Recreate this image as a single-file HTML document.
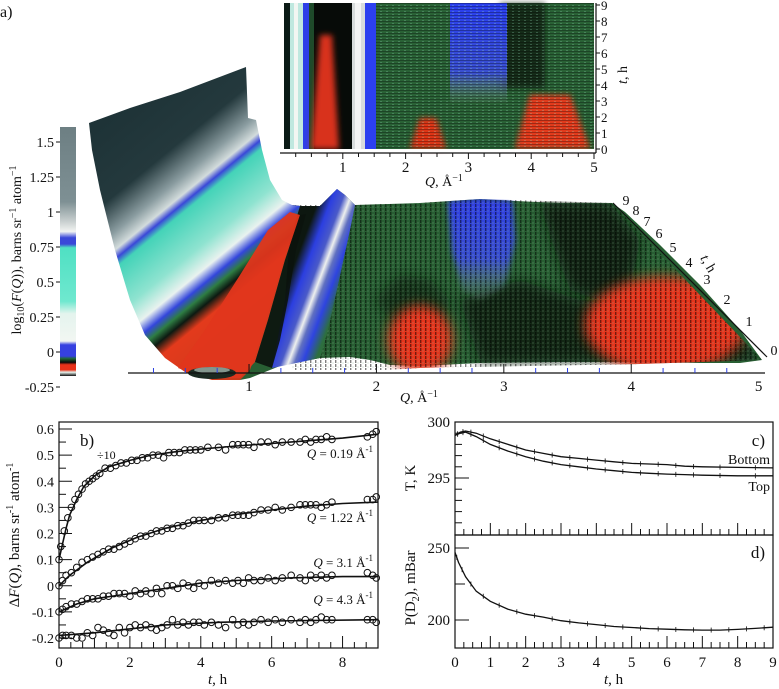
<!DOCTYPE html>
<html><head><meta charset="utf-8">
<style>
html,body{margin:0;padding:0;background:#fff;}
body{width:779px;height:689px;overflow:hidden;font-family:"Liberation Serif",serif;}
svg{position:absolute;left:0;top:0;}
text{font-family:"Liberation Serif",serif;fill:#111;}
</style></head>
<body>
<svg id="fig" width="779" height="689" viewBox="0 0 779 689">
<defs>
  <filter id="blur6" x="-30%" y="-30%" width="160%" height="160%"><feGaussianBlur stdDeviation="6"/></filter>
  <filter id="blur3" x="-30%" y="-30%" width="160%" height="160%"><feGaussianBlur stdDeviation="3"/></filter>
  <linearGradient id="wallGrad" gradientUnits="userSpaceOnUse" x1="120" y1="110" x2="300" y2="330">
    <stop offset="0" stop-color="#1e3337"/>
    <stop offset="0.22" stop-color="#24393d"/>
    <stop offset="0.32" stop-color="#8a9ca0"/>
    <stop offset="0.37" stop-color="#d3dcdc"/>
    <stop offset="0.395" stop-color="#3a48d8"/>
    <stop offset="0.42" stop-color="#44d3b8"/>
    <stop offset="0.55" stop-color="#8fe3d0"/>
    <stop offset="0.62" stop-color="#e9f2ef"/>
    <stop offset="0.66" stop-color="#3346dc"/>
    <stop offset="0.69" stop-color="#2e7d43"/>
    <stop offset="0.72" stop-color="#0d1a12"/>
    <stop offset="0.76" stop-color="#e33a1c"/>
    <stop offset="1" stop-color="#c93a1a"/>
  </linearGradient>
  <linearGradient id="cbGrad" x1="0" y1="0" x2="0" y2="1">
    <stop offset="0" stop-color="#6d7f83"/>
    <stop offset="0.30" stop-color="#7e9094"/>
    <stop offset="0.38" stop-color="#c9d0d0"/>
    <stop offset="0.42" stop-color="#f2f4f2"/>
    <stop offset="0.445" stop-color="#3a48d8"/>
    <stop offset="0.47" stop-color="#3a48d8"/>
    <stop offset="0.485" stop-color="#4fe0c3"/>
    <stop offset="0.70" stop-color="#6fe8cf"/>
    <stop offset="0.75" stop-color="#e4f4ee"/>
    <stop offset="0.86" stop-color="#f2f6f2"/>
    <stop offset="0.875" stop-color="#3641e0"/>
    <stop offset="0.92" stop-color="#3641e0"/>
    <stop offset="0.93" stop-color="#1f6a38"/>
    <stop offset="0.945" stop-color="#0a0a0a"/>
    <stop offset="0.955" stop-color="#e8321a"/>
    <stop offset="0.975" stop-color="#e8321a"/>
    <stop offset="0.985" stop-color="#e6f0ea"/>
    <stop offset="1" stop-color="#111"/>
  </linearGradient>
  <linearGradient id="ridgeGrad" gradientUnits="userSpaceOnUse" x1="272" y1="270" x2="352" y2="300">
    <stop offset="0" stop-color="#0d1710"/>
    <stop offset="0.22" stop-color="#0d1710"/>
    <stop offset="0.36" stop-color="#2c3fe0"/>
    <stop offset="0.48" stop-color="#4a5ac8"/>
    <stop offset="0.56" stop-color="#eef0ee"/>
    <stop offset="0.63" stop-color="#6070c0"/>
    <stop offset="0.72" stop-color="#2e44e0"/>
    <stop offset="0.85" stop-color="#2d6f3e"/>
    <stop offset="1" stop-color="#2d6f3e"/>
  </linearGradient>
  <linearGradient id="blueGrad" x1="0" y1="0" x2="0" y2="1">
    <stop offset="0" stop-color="#2f3fe6"/><stop offset="0.6" stop-color="#3a4fd0"/><stop offset="1" stop-color="#6f8f80" stop-opacity="0.2"/>
  </linearGradient>
  <linearGradient id="insetBlue" x1="0" y1="0" x2="0" y2="1">
    <stop offset="0" stop-color="#2a3ff0"/><stop offset="0.7" stop-color="#3a50d0"/><stop offset="1" stop-color="#7a9a88" stop-opacity="0.1"/>
  </linearGradient>
  <pattern id="tex" width="5" height="4" patternUnits="userSpaceOnUse">
    <rect x="0" y="0" width="1.4" height="3" fill="#000" opacity="0.5"/>
    <rect x="2.5" y="2" width="1" height="2" fill="#8fb89a" opacity="0.3"/>
  </pattern>
  <pattern id="htex" width="6" height="3" patternUnits="userSpaceOnUse">
    <rect x="0" y="0" width="6" height="1" fill="#000" opacity="0.3"/>
    <rect x="2" y="2" width="2" height="1" fill="#9fe8c8" opacity="0.25"/>
  </pattern>
  <clipPath id="plateauClip"><polygon points="292,205 355,205 420,203 480,199 612,203 762,360 640,364 420,368 250,378"/></clipPath>
</defs>

<text x="0" y="17" font-size="16">a)</text>

<g>
  <rect x="60" y="127" width="16" height="249" fill="url(#cbGrad)"/>
  <g id="cbTicks"></g>
  <text transform="translate(21,250) rotate(-90)" text-anchor="middle" font-size="14">log<tspan font-size="10" dy="3">10</tspan><tspan dy="-3">(</tspan><tspan font-style="italic">F</tspan>(<tspan font-style="italic">Q</tspan>)), barns sr<tspan font-size="10" dy="-5">−1</tspan><tspan dy="5"> atom</tspan><tspan font-size="10" dy="-5">−1</tspan></text>
</g>

<g>
  <polygon fill="#285f33"
    points="292,205 300,206 320,206 330,196 337,189 345,195 355,205 420,203 450,201 480,199 515,201 560,203 612,203 625,212 660,245 700,285 740,330 762,360 740,363 700,363 640,362 560,362 480,363 420,366 390,365 370,360 350,357 320,358 280,366 250,378 240,380 260,330"/>
  <g clip-path="url(#plateauClip)">
    <polygon fill="#0c160f" opacity="0.8" filter="url(#blur6)"
      points="540,203 610,203 640,240 630,290 600,300 570,290 555,250"/>
    <polygon fill="#0b140c" opacity="0.75" filter="url(#blur6)"
      points="460,300 520,280 580,300 700,320 745,340 760,362 600,362 480,363"/>
    <polygon fill="#0e1a10" opacity="0.6" filter="url(#blur6)"
      points="375,300 400,275 430,280 450,300 440,330 400,330"/>
    <polygon fill="url(#blueGrad)" filter="url(#blur3)"
      points="448,201 480,198 512,201 515,240 505,285 480,300 462,290 452,250"/>
    <ellipse cx="420" cy="340" rx="32" ry="34" fill="#e8341a" filter="url(#blur6)"/>
    <ellipse cx="665" cy="325" rx="80" ry="48" fill="#e6341a" filter="url(#blur6)"/>
    <rect x="292" y="190" width="472" height="180" fill="url(#tex)"/>
  </g>
  <polygon fill="url(#ridgeGrad)"
    points="292,205 300,206 320,206 330,196 337,189 345,195 355,205 350,230 338,285 328,330 320,358 282,366 272,368 285,300"/>
  <polygon fill="url(#wallGrad)"
    points="89,123 130,108 180,92 246,67 248,118 256,120 262,150 270,180 282,200 292,205 300,206 290,240 275,290 262,335 250,370 240,380 212,380 185,372 165,358 145,335 130,300 115,250 100,190 92,150"/>
  <polygon fill="#e0361c" opacity="0.95"
    points="178,368 205,330 240,275 268,230 290,212 300,215 285,260 268,320 255,362 240,378 205,378"/>
  <polygon fill="#0b130d" opacity="0.9"
    points="255,362 268,320 285,260 300,215 306,214 296,250 288,300 280,340 272,368"/>
  <ellipse cx="212" cy="373" rx="24" ry="6" fill="#1b2a22"/>
  <ellipse cx="212" cy="370" rx="18" ry="3" fill="#c9e0d6" opacity="0.6"/>
</g>

<g id="surfQAxis">
  <line x1="128" y1="373" x2="765" y2="373" stroke="#111" stroke-width="1.2"/>
</g>
<text x="400" y="402" font-size="14"><tspan font-style="italic">Q</tspan>, Å<tspan font-size="10" dy="-5">−1</tspan></text>

<g id="surfTAxis">
  <line x1="613" y1="203" x2="767" y2="357" stroke="#111" stroke-width="1.2"/>
</g>
<text transform="translate(700,258) rotate(60)" font-size="14"><tspan font-style="italic">t</tspan>, h</text>

<g>
  <rect x="284" y="3" width="310" height="146" fill="#2a6236"/>
  <rect x="284" y="3" width="6" height="146" fill="#0b1a16"/>
  <rect x="290" y="3" width="13" height="146" fill="#bfe8df"/>
  <rect x="294" y="3" width="4" height="146" fill="#f2f6f2"/>
  <rect x="303" y="3" width="6" height="146" fill="#2d3fe8"/>
  <rect x="309" y="3" width="5" height="146" fill="#1e4a2a"/>
  <rect x="314" y="3" width="40" height="146" fill="#070b08"/>
  <polygon points="320,35 332,35 339,149 311,149" fill="#d8321a" filter="url(#blur3)"/>
  <rect x="352" y="3" width="13" height="146" fill="#d8dcdc"/>
  <rect x="355" y="3" width="6" height="146" fill="#f4f4f4"/>
  <rect x="365" y="3" width="11" height="146" fill="#2c3ff0"/>
  <rect x="500" y="3" width="45" height="85" fill="#0c150e" opacity="0.7" filter="url(#blur3)"/>
  <rect x="450" y="3" width="57" height="100" fill="url(#insetBlue)"/>
  <polygon points="420,118 436,118 446,149 410,149" fill="#dd3418" filter="url(#blur3)"/>
  <polygon points="530,95 570,95 590,149 515,149" fill="#e23a1c" filter="url(#blur3)"/>
  <rect x="376" y="3" width="218" height="146" fill="url(#htex)"/>
  <rect x="284" y="149" width="312" height="4" fill="#fff"/>
  <line x1="280" y1="153" x2="596" y2="153" stroke="#111" stroke-width="1.2"/>
  <line x1="596" y1="3" x2="596" y2="153" stroke="#111" stroke-width="1.2"/>
  <g id="insetTicks"></g>
  <text x="425" y="186" font-size="14"><tspan font-style="italic">Q</tspan>, Å<tspan font-size="10" dy="-5">−1</tspan></text>
  <text transform="translate(627,75) rotate(-90)" text-anchor="middle" font-size="14"><tspan font-style="italic">t</tspan>, h</text>
</g>

<g id="panelB">
  <rect x="59" y="422" width="319" height="226" fill="none" stroke="#111" stroke-width="1.2"/>
  <text x="80" y="446" font-size="17">b)</text>
  <text x="97" y="459" font-size="12">÷10</text>
  <text x="373" y="458" font-size="13" text-anchor="end"><tspan font-style="italic">Q</tspan> = 0.19 Å<tspan font-size="9" dy="-6">-1</tspan></text>
  <text x="373" y="522" font-size="13" text-anchor="end"><tspan font-style="italic">Q</tspan> = 1.22 Å<tspan font-size="9" dy="-6">-1</tspan></text>
  <text x="373" y="567" font-size="13" text-anchor="end"><tspan font-style="italic">Q</tspan> = 3.1 Å<tspan font-size="9" dy="-6">-1</tspan></text>
  <text x="373" y="604" font-size="13" text-anchor="end"><tspan font-style="italic">Q</tspan> = 4.3 Å<tspan font-size="9" dy="-6">-1</tspan></text>
  <text transform="translate(19,535) rotate(-90)" text-anchor="middle" font-size="15">Δ<tspan font-style="italic">F</tspan>(<tspan font-style="italic">Q</tspan>), barns sr<tspan font-size="10" dy="-6">-1</tspan><tspan dy="6"> atom</tspan><tspan font-size="10" dy="-6">-1</tspan></text>
  <text x="208" y="684" font-size="15"><tspan font-style="italic">t</tspan>, h</text>
</g>

<g id="panelCD">
  <rect x="455" y="422" width="318" height="113" fill="none" stroke="#111" stroke-width="1.2"/>
  <rect x="455" y="535" width="318" height="113" fill="none" stroke="#111" stroke-width="1.2"/>
  <text x="765" y="446" font-size="17" text-anchor="end">c)</text>
  <text x="765" y="558" font-size="17" text-anchor="end">d)</text>
  <text x="770" y="464" font-size="14" text-anchor="end">Bottom</text>
  <text x="770" y="491" font-size="14" text-anchor="end">Top</text>
  <text transform="translate(415,478) rotate(-90)" text-anchor="middle" font-size="15">T, K</text>
  <text transform="translate(415,588) rotate(-90)" text-anchor="middle" font-size="15">P(D<tspan font-size="10" dy="4">2</tspan><tspan dy="-4">), mBar</tspan></text>
  <text x="604" y="684" font-size="15"><tspan font-style="italic">t</tspan>, h</text>
</g>
</svg>

<script>
// ---------- Panel b data ----------
const b019T = [0,0.05,0.15,0.25,0.35,0.45,0.55,0.65,0.75,0.85,0.95,1.05,1.15,1.3,1.45,1.6,1.75,1.9,2.05,2.2,2.35,2.5,2.65,2.8,2.95,3.1,3.25,3.4,3.55,3.7,3.85,4.0,4.2,4.5,4.7,4.9,5.05,5.2,5.35,5.5,5.7,5.9,6.1,6.3,6.55,6.8,6.95,7.1,7.25,7.4,7.55,7.7,8.7,8.85,8.95];
const b019Y = [0.10,0.15,0.21,0.26,0.30,0.33,0.35,0.37,0.39,0.40,0.41,0.42,0.43,0.45,0.45,0.46,0.47,0.47,0.48,0.48,0.49,0.49,0.50,0.50,0.49,0.51,0.51,0.51,0.52,0.52,0.52,0.52,0.53,0.53,0.52,0.54,0.54,0.54,0.54,0.53,0.55,0.55,0.54,0.55,0.55,0.55,0.56,0.55,0.56,0.56,0.57,0.56,0.57,0.58,0.59];
const b019FitT = [0,0.1,0.2,0.3,0.5,0.7,1.0,1.4,2.0,2.6,3.3,4.0,5.0,6.0,7.0,8.0,9.0];
const b019FitY = [0.10,0.16,0.22,0.27,0.33,0.38,0.42,0.455,0.48,0.50,0.513,0.523,0.535,0.545,0.555,0.565,0.58];

const b122T = [0,0.1,0.2,0.35,0.5,0.65,0.8,0.95,1.1,1.25,1.4,1.55,1.7,1.85,2.0,2.15,2.3,2.45,2.6,2.75,2.9,3.05,3.2,3.35,3.5,3.65,3.8,3.95,4.1,4.3,4.5,4.7,4.9,5.05,5.2,5.35,5.5,5.7,5.9,6.1,6.3,6.55,6.8,6.95,7.1,7.25,7.4,7.55,7.7,8.7,8.85,8.95];
const b122Y = [0.00,0.02,0.04,0.05,0.07,0.09,0.10,0.11,0.12,0.13,0.14,0.14,0.15,0.16,0.17,0.18,0.19,0.19,0.20,0.21,0.21,0.22,0.22,0.23,0.23,0.24,0.25,0.25,0.25,0.25,0.26,0.26,0.27,0.27,0.27,0.27,0.28,0.29,0.29,0.30,0.29,0.30,0.31,0.31,0.31,0.31,0.30,0.31,0.32,0.33,0.33,0.34];
const b122FitT = [0,0.3,0.8,1.5,2.2,3.0,4.0,5.0,6.0,7.0,8.0,9.0];
const b122FitY = [0.00,0.04,0.09,0.145,0.185,0.22,0.25,0.273,0.29,0.305,0.315,0.32];

const b31T = [0,0.1,0.2,0.35,0.5,0.65,0.8,0.95,1.1,1.25,1.4,1.55,1.7,1.85,2.0,2.15,2.3,2.45,2.6,2.75,2.9,3.05,3.2,3.35,3.5,3.65,3.8,3.95,4.1,4.3,4.5,4.7,4.9,5.05,5.2,5.35,5.5,5.7,5.9,6.1,6.3,6.55,6.8,6.95,7.1,7.25,7.4,7.55,7.7,8.7,8.85,8.95];
const b31Y = [-0.10,-0.09,-0.08,-0.07,-0.07,-0.06,-0.05,-0.05,-0.05,-0.04,-0.04,-0.03,-0.03,-0.03,-0.04,-0.02,-0.03,-0.02,-0.03,-0.01,-0.03,0.00,0.00,-0.01,0.01,0.00,-0.01,0.01,0.00,0.02,0.01,0.02,0.01,0.02,0.01,0.03,0.02,0.02,0.03,0.02,0.03,0.04,0.03,0.02,0.04,0.03,0.04,0.03,0.04,0.05,0.04,0.03];
const b31FitT = [0,0.5,1.0,2.0,3.0,4.0,5.0,6.5,8.0,9.0];
const b31FitY = [-0.10,-0.07,-0.05,-0.03,-0.01,0.01,0.02,0.03,0.035,0.035];

const b43T = [0,0.1,0.2,0.35,0.5,0.65,0.8,0.95,1.1,1.25,1.4,1.55,1.7,1.85,2.0,2.15,2.3,2.45,2.6,2.75,2.9,3.05,3.2,3.35,3.5,3.65,3.8,3.95,4.1,4.3,4.5,4.7,4.9,5.05,5.2,5.35,5.5,5.7,5.9,6.1,6.3,6.55,6.8,6.95,7.1,7.25,7.4,7.55,7.7,8.7,8.85,8.95];
const b43Y = [-0.20,-0.19,-0.19,-0.19,-0.20,-0.20,-0.18,-0.19,-0.16,-0.17,-0.18,-0.19,-0.16,-0.18,-0.16,-0.15,-0.16,-0.15,-0.16,-0.17,-0.16,-0.15,-0.13,-0.15,-0.14,-0.15,-0.14,-0.14,-0.15,-0.14,-0.15,-0.16,-0.13,-0.15,-0.14,-0.15,-0.14,-0.13,-0.14,-0.13,-0.14,-0.13,-0.14,-0.13,-0.14,-0.13,-0.12,-0.13,-0.13,-0.13,-0.13,-0.14];
const b43FitT = [0,1.0,2.0,3.0,4.5,6.0,9.0];
const b43FitY = [-0.19,-0.18,-0.165,-0.15,-0.14,-0.135,-0.13];

const bYTicks = [-0.2,-0.1,0,0.1,0.2,0.3,0.4,0.5,0.6];
const bXTicks = [0,2,4,6,8];

// ---------- Panel c/d data ----------
const cBottomT = [0,0.15,0.3,0.6,1.0,1.5,2.0,2.5,3.0,3.5,4.0,4.5,5.0,5.5,6.0,6.5,7.0,8.0,9.0];
const cBottomY = [298.8,299.1,299.2,299.0,298.5,298.0,297.5,297.2,296.9,296.75,296.6,296.45,296.3,296.25,296.2,296.05,296.0,295.95,295.9];
const cTopT = [0,0.15,0.3,0.6,1.0,1.5,2.0,2.5,3.0,3.5,4.0,4.5,5.0,5.5,6.0,6.5,7.0,8.0,9.0];
const cTopY = [298.8,299.0,299.1,298.7,298.0,297.4,296.9,296.5,296.2,296.0,295.8,295.65,295.5,295.42,295.35,295.3,295.25,295.2,295.2];
const dT = [0,0.1,0.3,0.6,1.0,1.5,2.0,2.5,3.0,3.5,4.0,4.5,5.0,5.5,6.0,6.5,7.0,7.5,8.0,8.5,9.0];
const dP = [247,240,230,220,213,207.5,204,202,199.5,198,196.8,195.5,194.8,194,193.6,193.2,193,193,193.5,194.2,195];
const cYTicks = [295,300];
const dYTicks = [200,250];
const cdXTicks = [0,1,2,3,4,5,6,7,8,9];

// ---------- Panel a axis labels ----------
const cbTickVals = [-0.25,0,0.25,0.5,0.75,1,1.25,1.5];
const surfQTicks = [1,2,3,4,5];
const insetQTicks = [1,2,3,4,5];
const insetTTicks = [0,1,2,3,4,5,6,7,8,9];
const surfTTicks = [0,1,2,3,4,5,6,7,8,9];

const NS = "http://www.w3.org/2000/svg";
function mk(tag, attrs, parent){const e=document.createElementNS(NS,tag);for(const k in attrs)e.setAttribute(k,attrs[k]);parent.appendChild(e);return e;}

const bx = t => 59 + t*(319/9);
const by = v => 429 + (0.6-v)*261.25;
const cx = t => 455 + t*(318/9);
const cy = v => 422 + (300-v)*11.2;
const dy = v => 620 - (v-200)*1.44;
const cbY = v => 142 + (1.5-v)*140;
const sQ = q => 128 + (q-0.05)*127.4;
const iQ = q => 280 + q*62.8;
const iT = t => 149 - t*16;

const pB = document.getElementById('panelB');
const pCD = document.getElementById('panelCD');

for(let v=-0.2; v<=0.601; v+=0.05){
  const major = Math.abs(Math.round(v*10)-v*10)<1e-6;
  const tk = mk('line',{x1:59,x2:59+(major?13:7),y1:by(v),y2:by(v),stroke:'#111','stroke-width':1},pB);
  
  
}
bYTicks.forEach(v=>{
  const t = mk('text',{x:54,y:by(v)+5,'text-anchor':'end','font-size':14},pB);
  t.textContent = (Math.abs(v)<1e-9)?'0':String(v);
  
  
});
for(let i=1;i<27;i++){
  const t=i/3; const major = i%6===0;
  const tk = mk('line',{x1:bx(t),x2:bx(t),y1:648,y2:648-(major?12:(i%3===0?10:6)),stroke:'#111','stroke-width':1},pB);
  
  
}
bXTicks.forEach(v=>{
  const t = mk('text',{x:bx(v),y:667,'text-anchor':'middle','font-size':15},pB);
  t.textContent = String(v);
  
  
});
function bSeries(T,Y,FT,FY,name){
  const pts = FT.map((t,i)=>bx(t).toFixed(1)+','+by(FY[i]).toFixed(1)).join(' ');
  const l = mk('polyline',{points:pts,fill:'none',stroke:'#111','stroke-width':1.6},pB);
  
  
  T.forEach((t,i)=>{
    const c = mk('circle',{cx:bx(t),cy:by(Y[i]),r:3.3,fill:'none',stroke:'#111','stroke-width':1},pB);
    
    
  });
}
bSeries(b019T,b019Y,b019FitT,b019FitY,'q019');
bSeries(b122T,b122Y,b122FitT,b122FitY,'q122');
bSeries(b31T,b31Y,b31FitT,b31FitY,'q31');
bSeries(b43T,b43Y,b43FitT,b43FitY,'q43');

for(let v=291; v<=299; v++){
  const major = v===295;
  const tk = mk('line',{x1:455,x2:455+(major?14:7),y1:cy(v),y2:cy(v),stroke:'#111','stroke-width':1},pCD);
  
  
}
cYTicks.forEach(v=>{
  const t = mk('text',{x:450,y:cy(v)+5,'text-anchor':'end','font-size':15},pCD);
  t.textContent = String(v);
  
  
});
[200,225,250].forEach(v=>{
  const tk = mk('line',{x1:455,x2:455+(v===225?10:14),y1:dy(v),y2:dy(v),stroke:'#111','stroke-width':1},pCD);
  
  
});
dYTicks.forEach(v=>{
  const t = mk('text',{x:450,y:dy(v)+5,'text-anchor':'end','font-size':15},pCD);
  t.textContent = String(v);
  
  
});
[535,648].forEach(base=>{
  for(let i=1;i<36;i++){
    const t=i/4; const major=i%4===0;
    const tk = mk('line',{x1:cx(t),x2:cx(t),y1:base,y2:base-(major?12:6),stroke:'#111','stroke-width':1},pCD);
    
    
  }
});
cdXTicks.forEach(v=>{
  const t = mk('text',{x:cx(v),y:667,'text-anchor':'middle','font-size':15},pCD);
  t.textContent = String(v);
  
  
});
function cdLine(T,Y,yf,name){
  let pts = T.map((t,i)=>cx(t).toFixed(1)+','+yf(Y[i]).toFixed(1));
  const l = mk('polyline',{points:pts.join(' '),fill:'none',stroke:'#111','stroke-width':1.3},pCD);
  
  
  for(let i=1;i<T.length;i++){
    const tm=(T[i-1]+T[i])/2, ym=(Y[i-1]+Y[i])/2;
    const e = mk('line',{x1:cx(tm),x2:cx(tm),y1:yf(ym)-2.5,y2:yf(ym)+2.5,stroke:'#111','stroke-width':0.8},pCD);
    
    
  }
}
cdLine(cBottomT,cBottomY,cy,'bottom-temperature-line');
cdLine(cTopT,cTopY,cy,'top-temperature-line');
cdLine(dT,dP,dy,'pressure-line');

const cbG = document.getElementById('cbTicks');
cbTickVals.forEach(v=>{
  const tk = mk('line',{x1:56,x2:60,y1:cbY(v),y2:cbY(v),stroke:'#111','stroke-width':1},cbG);
  
  
  const t = mk('text',{x:54,y:cbY(v)+5,'text-anchor':'end','font-size':14},cbG);
  t.textContent = String(v);
  
  
});

const sqG = document.getElementById('surfQAxis');
for(let i=1;i<20;i++){
  const q=i/4; const major=i%4===0;
  const tk = mk('line',{x1:sQ(q),x2:sQ(q),y1:373,y2:373-(major?9:5),stroke:major?'#111':'#2a3fe0','stroke-width':1},sqG);
  
  
}
surfQTicks.forEach(v=>{
  const t = mk('text',{x:sQ(v),y:391,'text-anchor':'middle','font-size':15},sqG);
  t.textContent = String(v);
  
  
});

const stG = document.getElementById('surfTAxis');
const stLabelX = [774,749,727,707,689,673,659,647,636,626];
const stLabelY = [355,326,304,284,267,252,238,226,215,205];
surfTTicks.forEach((v,i)=>{
  const t = mk('text',{x:stLabelX[i],y:stLabelY[i],'text-anchor':'middle','font-size':14},stG);
  t.textContent = String(v);
  
  
});

const inG = document.getElementById('insetTicks');
for(let i=1;i<=20;i++){
  const q=i/4; const major=i%4===0;
  const tk = mk('line',{x1:iQ(q),x2:iQ(q),y1:153,y2:153+(major?6:4),stroke:'#111','stroke-width':1},inG);
  
  
}
insetQTicks.forEach(v=>{
  const t = mk('text',{x:iQ(v),y:172,'text-anchor':'middle','font-size':15},inG);
  t.textContent = String(v);
  
  
});
insetTTicks.forEach(v=>{
  const tk = mk('line',{x1:596,x2:600,y1:iT(v),y2:iT(v),stroke:'#111','stroke-width':1},inG);
  
  
  const t = mk('text',{x:601,y:iT(v)+5,'font-size':13},inG);
  t.textContent = String(v);
  
  
});
</script>
</body></html>
